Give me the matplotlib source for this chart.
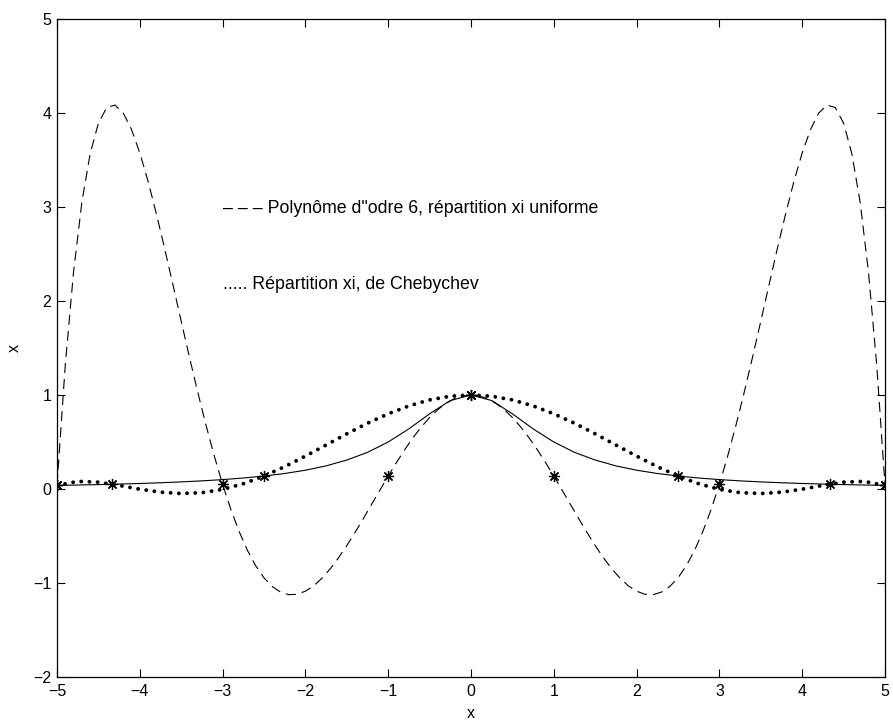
import matplotlib
matplotlib.use('Agg')
import matplotlib.pyplot as plt
import numpy as np

plt.rcParams['font.family'] = ['Liberation Sans', 'DejaVu Sans']

# ── data ──────────────────────────────────────────────────────────────────────
# dashed: degree-6 polynomial, uniform nodes (sampled every 0.1)
x_dense = np.linspace(-5, 5, 101)
y_uniform_half = [1.000, 0.990, 0.961, 0.912, 0.845, 0.761, 0.660, 0.546, 0.419, 0.282,
                  0.138, -0.012, -0.163, -0.314, -0.462, -0.602, -0.732, -0.849, -0.949, -1.030,
                  -1.087, -1.120, -1.124, -1.097, -1.038, -0.945, -0.817, -0.653, -0.453, -0.218,
                  0.050, 0.350, 0.678, 1.030, 1.401, 1.785, 2.174, 2.558, 2.928, 3.272,
                  3.576, 3.824, 4.000, 4.085, 4.057, 3.892, 3.565, 3.049, 2.311, 1.320,
                  0.038]
y_uniform = y_uniform_half[:0:-1] + y_uniform_half

# solid (true function) and dotted (Chebyshev interpolation), sampled every 0.25
x_grid = np.linspace(-5, 5, 41)
y_true_half = [1.000, 0.941, 0.800, 0.640, 0.500, 0.390, 0.308, 0.246, 0.200, 0.165,
               0.138, 0.117, 0.100, 0.0865, 0.0755, 0.0664, 0.0588, 0.0525, 0.0471, 0.0424,
               0.0385]
y_true = y_true_half[:0:-1] + y_true_half
y_cheb_half = [1.000, 0.987, 0.948, 0.884, 0.800, 0.700, 0.587, 0.468, 0.350, 0.238,
               0.138, 0.056, -0.004, -0.039, -0.048, -0.034, -0.002, 0.038, 0.073, 0.081,
               0.038]
y_cheb = y_cheb_half[:0:-1] + y_cheb_half

# interpolation nodes (asterisks)
nodes_cheb_x = [-5, -4.33, -2.5, 0, 2.5, 4.33, 5]
nodes_cheb_y = [0.038, 0.051, 0.138, 1.0, 0.138, 0.051, 0.038]
nodes_unif_x = [-5, -3, -1, 0, 1, 3, 5]
nodes_unif_y = [0.038, 0.051, 0.138, 1.0, 0.138, 0.051, 0.038]

xticks = list(range(-5, 6))
yticks = list(range(-2, 6))

# ── figure ────────────────────────────────────────────────────────────────────
fig = plt.figure(figsize=(8.93, 7.2), dpi=100)
ax = fig.add_axes([57/893, 43/720, 828/893, 658/720])

ax.plot(x_grid, y_true, color='black', lw=0.8)
ax.plot(x_dense, y_uniform, color='black', lw=0.8, dashes=(9, 5.5))
ax.plot(x_grid, y_cheb, color='black', lw=2.8, linestyle=(0, (0.01, 2.1)),
        dash_capstyle='round')
ax.plot(nodes_cheb_x, nodes_cheb_y, linestyle='none', marker=(8, 2, 0),
        markersize=8, markeredgewidth=0.9, color='black')
ax.plot(nodes_unif_x, nodes_unif_y, linestyle='none', marker=(8, 2, 0),
        markersize=8, markeredgewidth=0.9, color='black')

ax.text(-3, 2.94, '– – – Polynôme d"odre 6, répartition xi uniforme',
        fontsize=12.8, va='baseline', ha='left')
ax.text(-3, 2.13, '..... Répartition xi, de Chebychev',
        fontsize=12.8, va='baseline', ha='left')

ax.set_xlim(-5, 5)
ax.set_ylim(-2, 5)
ax.set_xticks(xticks)
ax.set_yticks(yticks)
ax.tick_params(direction='in', length=6, width=0.8, top=True, right=True,
               labelsize=11.5)
ax.tick_params(axis='x', pad=5)
ax.tick_params(axis='y', pad=4)
for s in ax.spines.values():
    s.set_linewidth(0.9)

ax.set_xlabel('x', fontsize=11.5, labelpad=5)
ax.set_ylabel('x', fontsize=11.5, labelpad=8)

fig.savefig('out.png', dpi=100, facecolor='white')
